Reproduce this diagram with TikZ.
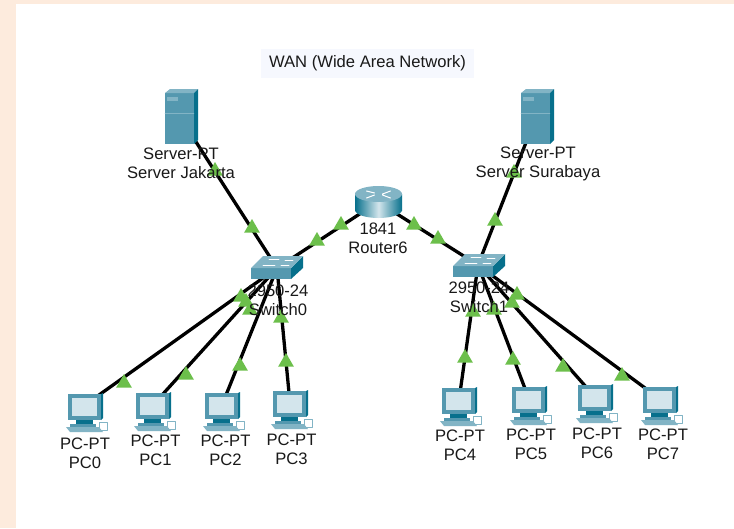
\documentclass[tikz,border=0pt]{standalone}
\usepackage{fontspec}
\setmainfont{Liberation Sans}
\usetikzlibrary{shapes.geometric}
\definecolor{pageback}{HTML}{FDEBDD}
\definecolor{titleback}{HTML}{F6F8FE}
\definecolor{tealfront}{HTML}{5498AF}
\definecolor{tealside}{HTML}{07708C}
\definecolor{tealtop}{HTML}{82B4C5}
\definecolor{tealscreen}{HTML}{D3E5EC}
\definecolor{linklight}{HTML}{6CBF4B}
\tikzset{
 lightup/.style={draw=none,fill=linklight,regular polygon,regular polygon sides=3,minimum size=18pt,inner sep=0pt},
 cable/.style={line width=3.3pt,color=black},
 devlabel/.style={align=center,font=\fontsize{16.6}{19}\selectfont,text=black!90,inner sep=0pt},
 pics/serverpt/.style={code={
  \fill[tealfront] (-15,-24) rectangle (14,27);
  \fill[tealtop] (-15,-24) -- (-10,-28) -- (18,-28) -- (14,-24) -- cycle;
  \fill[tealside] (14,-24) -- (18,-28) -- (18,23) -- (14,27) -- cycle;
  \fill[tealtop] (-13,-20) rectangle (-2,-16);
  \draw[tealtop,line width=.4pt] (-15,-4) -- (14,-4);
 }},
 pics/routerpt/.style={code={
  \shade[left color=tealside,right color=tealside,middle color=tealscreen] (-23.5,-8) rectangle (23.5,8);
  \shade[left color=tealside,right color=tealside,middle color=tealscreen] (0,8) ellipse (23.5 and 8);
  \fill[tealtop] (0,-8) ellipse (23.5 and 8);
  \draw[white,line width=1pt] (-12,-11) -- (-4,-9) (12,-11) -- (4,-8) (-12,-4) -- (-4,-7) (12,-4) -- (4,-7);
 }},
 pics/switchpt/.style={code={
  \fill[tealfront] (-20,0) rectangle (20,11);
  \fill[tealside] (20,0) -- (32,-12) -- (32,0) -- (20,11) -- cycle;
  \fill[tealtop] (-20,0) -- (-8,-12) -- (32,-12) -- (20,0) -- cycle;
  \draw[white,line width=.7pt] (-8,-3) -- (4,-3) (-2,-9) -- (8,-9) (14,-8) -- (22,-8) (10,-3) -- (18,-3);
 }},
 pics/pcpt/.style={code={
  \fill[tealfront] (-17,0) rectangle (16,26);
  \fill[tealside] (16,0) -- (18,-1) -- (18,24) -- (16,26) -- cycle;
  \fill[tealscreen] (-13,4) rectangle (12,22);
  \fill[tealside] (-9,26) rectangle (8,30);
  \fill[tealfront] (-15,30) rectangle (11,33);
  \fill[tealtop] (-19,33) -- (-15,38) -- (18,38) -- (14,33) -- cycle;
  \draw[tealtop,line width=.8pt] (14,28) rectangle (22,36);
 }}
}
\begin{document}
\begin{tikzpicture}[line cap=round,line join=round,x=1pt,y=-1pt]
\useasboundingbox (0,0) rectangle (734,528);
\fill[pageback] (0,0) rectangle (734,528);
\fill[white] (16,4) rectangle (734,528);
%judul
\node[fill=titleback,minimum width=213pt,minimum height=29pt,inner sep=0pt,font=\fontsize{16.6}{19}\selectfont,text=black!90] (wan) at (367.5,63.5) {WAN (Wide Area Network)};

%titik tengah perangkat
\coordinate (srvjkt) at (180,117);
\coordinate (srvsby) at (536,117);
\coordinate (router) at (378,202);
\coordinate (sw0) at (277,268);
\coordinate (sw1) at (478,265);
\foreach \pcname/\x/\y in {pc0/85/405,pc1/153/405,pc2/222/405,pc3/290/403,pc4/459/400,pc5/529/399,pc6/595/397,pc7/660/399}
{
\coordinate (\pcname) at (\x,\y);
}

%kabel
\draw[cable] (srvjkt)--(sw0);
\draw[cable] (srvsby)--(sw1);
\draw[cable] (sw0)--(router)--(sw1);
\foreach \pcname in {pc0,pc1,pc2,pc3}
{
\draw[cable] (sw0)--(\pcname);
}
\foreach \pcname in {pc4,pc5,pc6,pc7}
{
\draw[cable] (sw1)--(\pcname);
}

%lampu hijau
\foreach \x/\y [count=\i] in {215/171,252/228,317/241,341/225,414/225,438/239,514/173,495/221,124/383,241/297,186/375,246/302,240/366,250/310,286/362,281/318,465/358,473/312,513/360,494/310,563/367,512/303,622/376,517/295}
{
\node[lightup] (light\i) at (\x,\y) {};
}

%perangkat
\pic at (180,117) {serverpt};
\pic at (536,117) {serverpt};
\pic at (378.5,202) {routerpt};
\pic at (271,268) {switchpt};
\pic at (473,266) {switchpt};
\foreach \x/\y in {85/394,153/393,222/393,290/391,459/388,529/387,595/385,660/387}
{
\pic at (\x,\y) {pcpt};
}

%label
\node[devlabel] (lbljkt) at (181,163.5) {Server-PT\\Server Jakarta};
\node[devlabel] (lblsby) at (538,163.5) {Server-PT\\Server Surabaya};
\node[devlabel] (lblrouter) at (378,238.5) {1841\\Router6};
\node[devlabel] (lblsw0) at (278,300) {2950-24\\Switch0};
\node[devlabel] (lblsw1) at (479,297) {2950-24\\Switch1};
\foreach \x/\y/\name in {85/453/PC0,155.5/450.5/PC1,225.5/450.5/PC2,291.5/449.5/PC3,460/445.5/PC4,531/444.5/PC5,597/443/PC6,663/444.5/PC7}
{
\node[devlabel] (lbl\name) at (\x,\y) {PC-PT\\\name};
}
\end{tikzpicture}
\end{document}
